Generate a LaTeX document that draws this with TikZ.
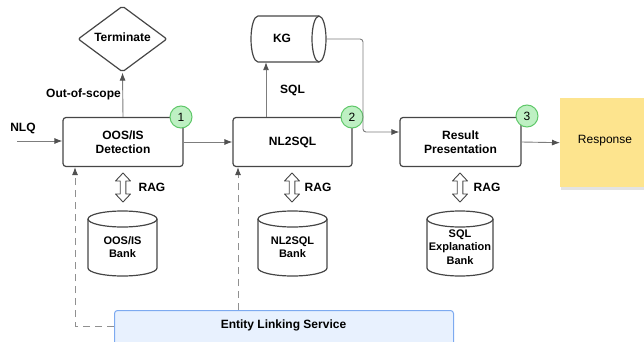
\documentclass[tikz,border=0pt]{standalone}
\usepackage{fontspec}
\setmainfont{Liberation Sans}
\usetikzlibrary{arrows.meta,shapes.geometric,shadows,calc}

\definecolor{boxline}{RGB}{70,70,70}
\definecolor{flowgray}{RGB}{125,125,125}
\definecolor{tipgray}{RGB}{80,80,80}
\definecolor{badgefill}{RGB}{190,240,195}
\definecolor{badgeline}{RGB}{95,200,105}
\definecolor{sticky}{RGB}{253,228,142}
\definecolor{elsfill}{RGB}{232,241,254}
\definecolor{elsline}{RGB}{125,170,240}

\tikzset{
  stage/.style={draw=boxline, line width=1.2pt, rounded corners=3pt, fill=white,
    minimum width=120pt, minimum height=49pt, align=center, inner sep=2pt},
  badge/.style={circle, draw=badgeline, line width=1pt, fill=badgefill,
    minimum size=22pt, inner sep=0pt, font=\fontsize{12}{14}\selectfont},
  flow/.style={draw=flowgray, line width=0.9pt, -{Latex[length=8pt,width=6pt,color=tipgray]}},
  link/.style={flow, draw=flowgray!85, dash pattern=on 7pt off 5pt},
  lbl/.style={align=center, inner sep=0pt},
  banklbl/.style={lbl, font=\fontsize{11}{13.5}\selectfont\bfseries},
  cyl/.style={draw=boxline, line width=1.2pt},
  rag/.pic={
    \draw[draw=boxline, line width=0.9pt, line join=round]
      (0,-14.5) -- (7.5,-6.5) -- (2.8,-6.5) -- (2.8,6.5) -- (7.5,6.5) -- (0,14.5)
      -- (-7.5,6.5) -- (-2.8,6.5) -- (-2.8,-6.5) -- (-7.5,-6.5) -- cycle;
  },
}

% vertical database cylinder: centre x, top y, bottom y, half width
\newcommand\bankcyl[4]{%
  \draw[cyl] (#1,#2+8) ellipse[x radius=#4, y radius=8];
  \draw[cyl] (#1-#4,#2+8) -- (#1-#4,#3-8)
    arc[start angle=180, end angle=0, x radius=#4, y radius=8] -- (#1+#4,#2+8);
}

\begin{document}
\begin{tikzpicture}[x=1pt, y=-1pt, font=\fontsize{12}{14}\selectfont\bfseries]
\useasboundingbox (0,0) rectangle (644,342);

% pipeline stages
\node[stage] (oos) at (123,142) {OOS/IS\\Detection};
\node[stage, minimum width=119pt] (nl) at (292.5,142) {NL2SQL};
\node[stage, minimum width=121pt] (res) at (460.5,142) {Result\\Presentation};

% terminate decision
\node[diamond, draw=boxline, line width=1.2pt, rounded corners=2pt,
  minimum width=89pt, minimum height=66pt, inner sep=0pt] (term) at (122.5,39) {};
\node[lbl] (termt) at (122.5,37.5) {Terminate};

% knowledge graph (horizontal cylinder)
\node[minimum width=75pt, minimum height=46pt, inner sep=0pt] (kg) at (288.5,39) {};
\draw[cyl] (319,39) ellipse[x radius=7, y radius=23];
\draw[cyl] (319,16) -- (258,16) arc[start angle=270, end angle=90, x radius=7, y radius=23] -- (319,62);
\node[lbl] (kgt) at (282,38) {KG};

% response sticky note
\node[fill=sticky, drop shadow={opacity=0.22, shadow xshift=1pt, shadow yshift=-3pt},
  minimum width=92pt, minimum height=89pt, inner sep=0pt, anchor=north west,
  font=\fontsize{12}{14}\selectfont] (resp) at (560,98) {\hspace*{0pt}};
\node[lbl, font=\fontsize{12}{14}\selectfont] (respt) at (605,141) {Response};

% entity linking service
\node[fill=elsfill, draw=elsline, line width=1pt, rounded corners=3pt,
  minimum width=339pt, minimum height=45pt, inner sep=0pt, anchor=north west] (els) at (114,310) {};
\node[lbl] (elst) at (283.5,325) {Entity Linking Service};

% badges
\node[badge] (b1) at (181,117) {1};
\node[badge] (b2) at (352,117) {2};
\node[badge] (b3) at (527,116) {3};

% main flow
\coordinate (nlq) at (17,141);
\node[lbl] (nlqt) at (23,128) {NLQ};
\draw[flow] (nlq) -- (nlq -| oos.west);
\draw[flow] (oos.east) -- (nl.west);
\draw[flow] (oos.north) -- (term.south);
\node[lbl] (oost) at (83.5,94) {Out-of-scope};

\coordinate (sqlup) at ([xshift=-26.5pt]nl.north);
\draw[flow] (sqlup) -- (sqlup |- kg.south);
\node[lbl] (sqlt) at (292.5,90) {SQL};

\coordinate (kgturn) at (363,132);
\draw[flow, rounded corners=3pt] (kg.east) -| (kgturn) -- (kgturn -| res.west);
\draw[flow] (res.east) -- (resp.west);

% retrieval banks
\pic at (123,187.5) {rag};
\pic at (292,187.5) {rag};
\pic at (460,187.5) {rag};
\node[lbl] (rag1) at (152,187) {RAG};
\node[lbl] (rag2) at (318,187) {RAG};
\node[lbl] (rag3) at (487,187) {RAG};

\bankcyl{122.5}{211}{276}{34.5}
\node[banklbl] (bank1) at (122.5,247) {OOS/IS\\Bank};
\bankcyl{292.5}{211}{276}{34.5}
\node[banklbl] (bank2) at (292.5,247) {NL2SQL\\Bank};
\bankcyl{460}{211}{276}{33}
\node[banklbl] (bank3) at (460,247) {SQL\\Explanation\\Bank};

% entity linking feeds
\coordinate (d1) at ([yshift=-16pt]els.north west);
\draw[link] (d1) -| ([xshift=-48pt]oos.south);
\coordinate (d2) at ([xshift=124pt]els.north west);
\draw[link] (d2) -- (d2 |- nl.south);
\end{tikzpicture}
\end{document}
